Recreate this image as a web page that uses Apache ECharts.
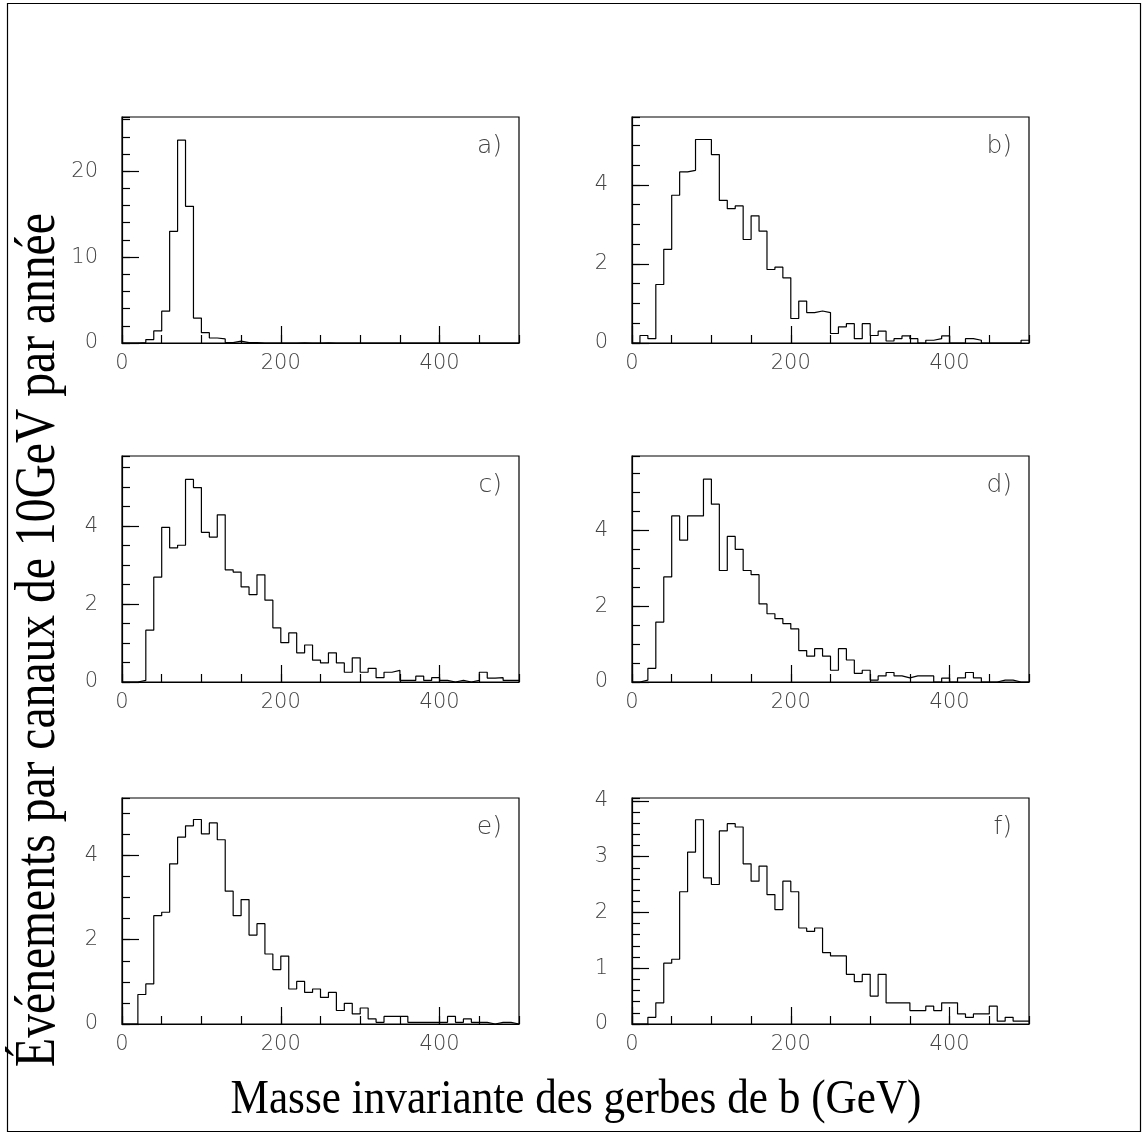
<!DOCTYPE html>
<html>
<head>
<meta charset="utf-8">
<script src="https://cdn.jsdelivr.net/npm/echarts@6/dist/echarts.min.js"></script>
<style>
  html, body { margin: 0; padding: 0; background: #fff; }
  #chart { width: 1147px; height: 1135px; }
</style>
</head>
<body>
<div id="chart"></div>
<script>
// bords des canaux (GeV), 10 GeV par canal
const binEdges = [0, 10, 20, 30, 40, 50, 60, 70, 80, 90, 100, 110, 120, 130, 140, 150, 160, 170, 180, 190,
  200, 210, 220, 230, 240, 250, 260, 270, 280, 290, 300, 310, 320, 330, 340, 350, 360, 370, 380, 390,
  400, 410, 420, 430, 440, 450, 460, 470, 480, 490, 500]

const panelLetters = ['a)', 'b)', 'c)', 'd)', 'e)', 'f)']

// contenu des canaux
const countsA = [0, 0, 0.05, 0.4, 1.4, 3.7, 13.0, 23.6, 15.9, 2.9, 1.2, 0.58, 0.47, 0.05, 0.22, 0.05, 0.05, 0, 0, 0,
  0, 0, 0.03, 0, 0, 0.03, 0, 0, 0, 0, 0, 0, 0, 0, 0, 0, 0, 0, 0, 0,
  0, 0, 0, 0, 0, 0, 0, 0, 0, 0]
const countsB = [0, 0.19, 0.11, 1.48, 2.37, 3.74, 4.33, 4.37, 5.15, 5.15, 4.77, 3.61, 3.4, 3.47, 2.62, 3.22, 2.83, 1.86, 1.92, 1.65,
  0.62, 1.06, 0.77, 0.81, 0.77, 0.24, 0.41, 0.49, 0.11, 0.49, 0.19, 0.30, 0.05, 0.11, 0.18, 0.11, 0, 0.07, 0.11, 0.18,
  0, 0, 0.11, 0.07, 0, 0, 0, 0, 0, 0.07]
const countsC = [0, 0, 0.04, 1.33, 2.69, 3.97, 3.44, 3.51, 5.2, 4.99, 3.84, 3.72, 4.29, 2.88, 2.82, 2.44, 2.24, 2.75, 2.10, 1.39,
  1.01, 1.26, 0.75, 0.95, 0.56, 0.49, 0.75, 0.49, 0.25, 0.62, 0.25, 0.35, 0.11, 0.25, 0.30, 0.04, 0.04, 0.15, 0.04, 0.11,
  0.04, 0, 0.04, 0, 0.04, 0.25, 0.1, 0.11, 0.04, 0.04]
const countsD = [0, 0.05, 0.36, 1.58, 2.77, 4.38, 3.74, 4.38, 4.38, 5.35, 4.69, 2.94, 3.84, 3.5, 2.94, 2.83, 2.06, 1.80, 1.67, 1.54,
  1.40, 0.83, 0.68, 0.88, 0.68, 0.31, 0.88, 0.58, 0.23, 0.31, 0.05, 0.16, 0.25, 0.16, 0.11, 0.16, 0.16, 0.16, 0, 0.1,
  0, 0.11, 0.25, 0.11, 0, 0, 0.05, 0.05, 0, 0]
const countsE = [0, 0, 0.70, 0.95, 2.57, 2.65, 3.80, 4.43, 4.70, 4.85, 4.51, 4.77, 4.37, 3.15, 2.57, 2.95, 2.11, 2.38, 1.66, 1.29,
  1.61, 0.83, 1.01, 0.75, 0.83, 0.63, 0.75, 0.32, 0.49, 0.24, 0.38, 0.12, 0.04, 0.18, 0.18, 0.18, 0.04, 0.04, 0.04, 0.04,
  0.04, 0.18, 0.04, 0.12, 0.04, 0.04, 0, 0.04, 0.04, 0]
const countsF = [0, 0, 0.12, 0.38, 1.09, 1.16, 2.37, 3.08, 3.66, 2.62, 2.50, 3.46, 3.59, 3.53, 2.87, 2.56, 2.83, 2.32, 2.05, 2.56,
  2.37, 1.72, 1.66, 1.72, 1.28, 1.22, 1.22, 0.89, 0.76, 0.89, 0.50, 0.89, 0.38, 0.38, 0.38, 0.24, 0.24, 0.32, 0.24, 0.38,
  0.38, 0.18, 0.12, 0.18, 0.18, 0.32, 0.05, 0.12, 0.05, 0.05]

const panelCounts = [countsA, countsB, countsC, countsD, countsE, countsF]

// échelles verticales de chaque cadre
const yMaxes = [26.3, 5.72, 5.8, 5.96, 5.36, 4.05]
const yMajor = [10, 2, 2, 2, 2, 1]
const yMinor = [2, 0.5, 0.5, 0.5, 0.5, 0.2]

const xTitle = 'Masse invariante des gerbes de b (GeV)'
const yTitle = 'Événements par canaux de 10GeV par année'

const colLeft = [122, 632]
const rowTop = [117, 456, 798]
const plotW = 397
const plotH = 226

const labelFont = { fontFamily: 'DejaVu Sans', fontWeight: 200, fontSize: 21, color: '#444' }
const ink = { color: '#000', width: 1.2 }

const grids = []
const xAxes = []
const yAxes = []
const series = []
const graphics = []

panelCounts.forEach((counts, i) => {
  const left = colLeft[i % 2]
  const top = rowTop[Math.floor(i / 2)]

  grids.push({
    left, top, width: plotW, height: plotH,
    show: true, borderColor: '#000', borderWidth: 1.2,
    containLabel: false, outerBoundsMode: 'none'
  })

  // axe x : graduations majeures + mineures
  xAxes.push({
    type: 'value', gridIndex: i, position: 'bottom', min: 0, max: 500, interval: 200,
    axisLine: { show: true, lineStyle: ink },
    axisTick: { show: true, inside: true, length: 17, lineStyle: ink },
    axisLabel: { ...labelFont, margin: 10, showMaxLabel: false },
    splitLine: { show: false }
  })
  xAxes.push({
    type: 'value', gridIndex: i, position: 'bottom', min: 0, max: 500, interval: 50,
    axisLine: { show: false },
    axisTick: { show: true, inside: true, length: 8, lineStyle: ink },
    axisLabel: { show: false },
    splitLine: { show: false }
  })

  yAxes.push({
    type: 'value', gridIndex: i, position: 'left', min: 0, max: yMaxes[i], interval: yMajor[i],
    axisLine: { show: true, lineStyle: ink },
    axisTick: { show: true, inside: true, length: 17, lineStyle: ink },
    axisLabel: { ...labelFont, margin: 24, showMaxLabel: false },
    splitLine: { show: false }
  })
  yAxes.push({
    type: 'value', gridIndex: i, position: 'left', min: 0, max: yMaxes[i], interval: yMinor[i],
    axisLine: { show: false },
    axisTick: { show: true, inside: true, length: 8, lineStyle: ink },
    axisLabel: { show: false },
    splitLine: { show: false }
  })

  series.push({
    type: 'line',
    xAxisIndex: 2 * i,
    yAxisIndex: 2 * i,
    step: 'end',
    symbol: 'none',
    silent: true,
    lineStyle: ink,
    data: binEdges.map((x, k) => [x, counts[Math.min(k, counts.length - 1)]])
  })

  graphics.push({
    type: 'text',
    x: left + plotW - 17,
    y: top + 17,
    style: {
      text: panelLetters[i],
      fontFamily: 'DejaVu Sans', fontWeight: 200, fontSize: 25,
      fill: '#444', textAlign: 'right', textVerticalAlign: 'top'
    }
  })
})

// cadre extérieur
graphics.push({
  type: 'rect',
  shape: { x: 7.5, y: 3.5, width: 1133, height: 1128 },
  style: { fill: 'none', stroke: '#000', lineWidth: 1.2 }
})

// titres des axes
graphics.push({
  type: 'text',
  x: 576, y: 1100, scaleX: 0.9,
  style: {
    text: xTitle,
    fontFamily: 'Liberation Serif', fontSize: 48,
    fill: '#000', textAlign: 'center', textVerticalAlign: 'middle'
  }
})
graphics.push({
  type: 'text',
  x: 39, y: 640, rotation: Math.PI / 2, scaleX: 0.85,
  style: {
    text: yTitle,
    fontFamily: 'Liberation Serif', fontSize: 56,
    fill: '#000', textAlign: 'center', textVerticalAlign: 'middle'
  }
})

const chart = echarts.init(document.getElementById('chart'))
chart.setOption({
  backgroundColor: '#fff',
  animation: false,
  grid: grids,
  xAxis: xAxes,
  yAxis: yAxes,
  series,
  graphic: graphics
})
</script>
</body>
</html>
